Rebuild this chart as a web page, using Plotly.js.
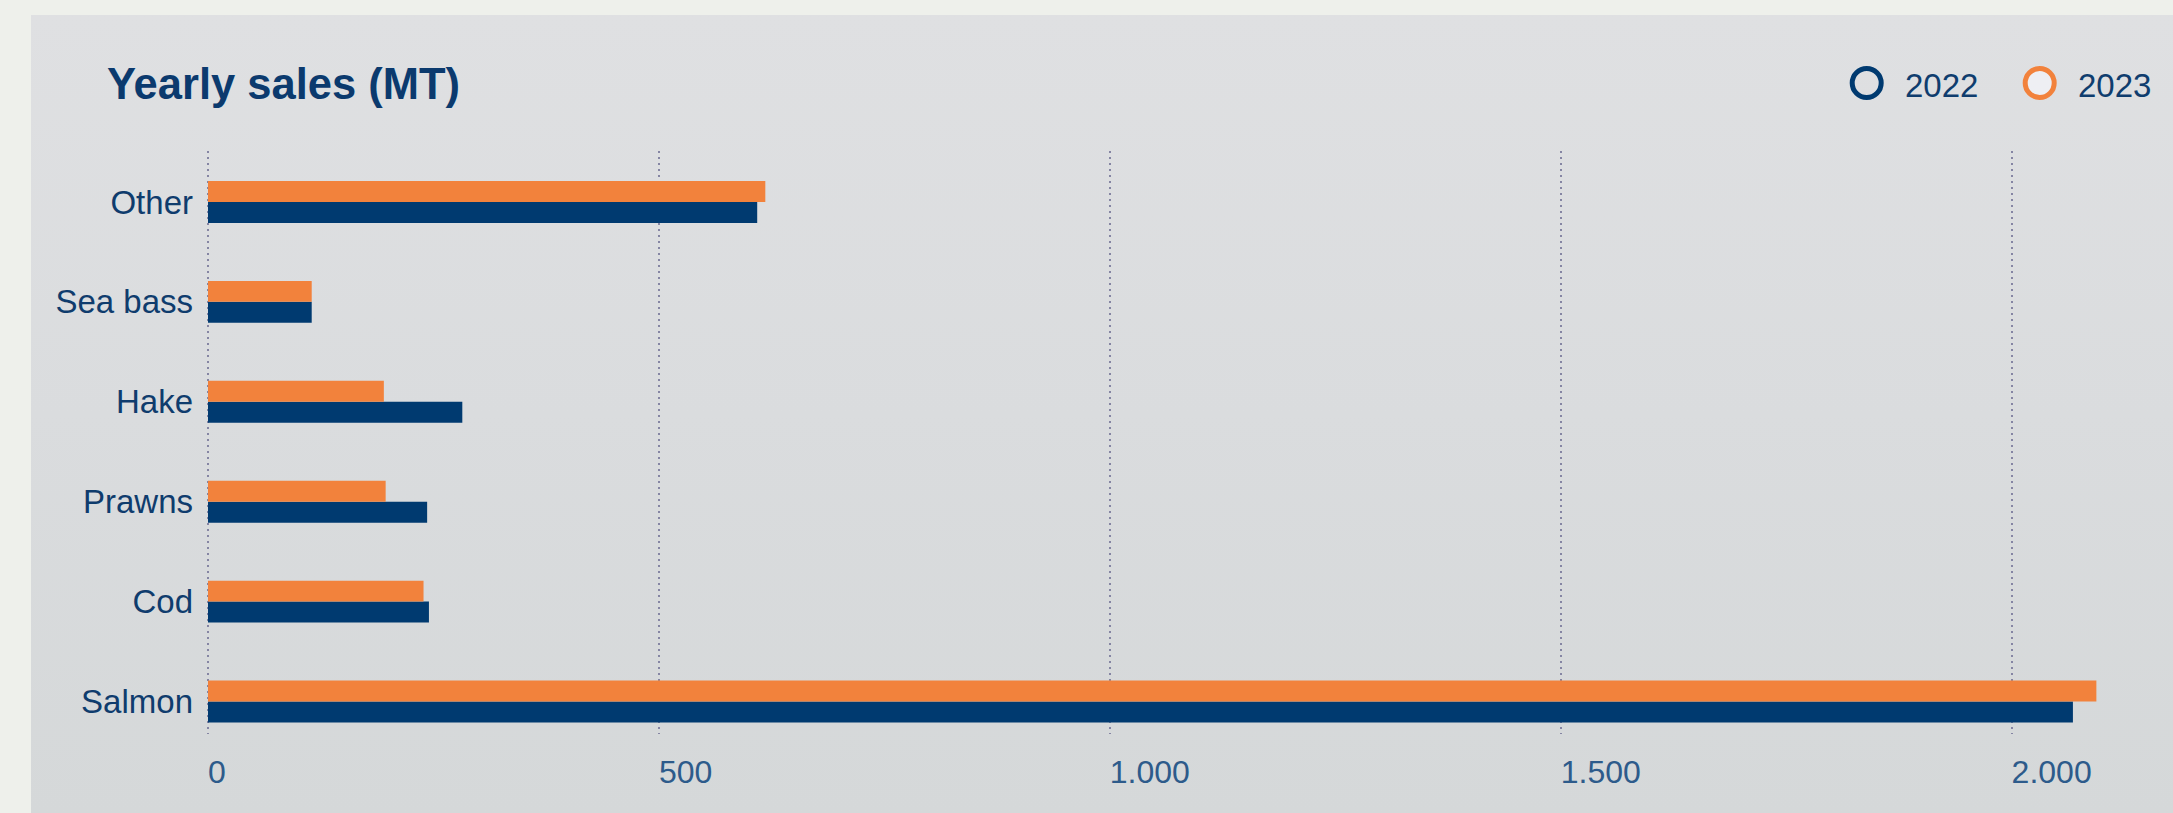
<!DOCTYPE html>
<html>
<head>
<meta charset="utf-8">
<script src="https://cdn.plot.ly/plotly-3.0.1.min.js"></script>
<style>
  html, body { margin: 0; padding: 0; background: #eef0eb; }
  #card { position: absolute; left: 31px; top: 15px; width: 2142px; height: 798px;
          background: linear-gradient(180deg, #dfe0e2 0%, #dadcde 50%, #d5d8d9 100%); }
  #chart { position: absolute; left: 0; top: 0; width: 2173px; height: 813px; }
</style>
</head>
<body>
<div id="card"></div>
<div id="chart"></div>
<script>
// ---- data ----
const categories = ['Salmon', 'Cod', 'Prawns', 'Hake', 'Sea bass', 'Other'];
const seriesNames = ['2022', '2023'];
const sales2022 = [2068, 245, 243, 282, 115, 609];
const sales2023 = [2094, 239, 197, 195, 115, 618];
const xTickVals = [0, 500, 1000, 1500, 2000];

// ---- styling ----
const W = 2173, H = 813;
const M = { l: 204, r: 63, t: 151, b: 79 };
const PW = W - M.l - M.r, PH = H - M.t - M.b;
const SCALE = 0.9018;           // px per unit
const XMIN = -4 / SCALE;        // 0 sits 4px inside the plot area (x = 208)
const px2x = p => (p - M.l) / PW;
const py2y = p => (H - M.b - p) / PH;
const navy = '#003a70', orange = '#f2823c';
const colors = [navy, orange];
const FONT = '"Liberation Sans", Arial, Helvetica, sans-serif';

const traces = [sales2022, sales2023].map((vals, i) => ({
  type: 'bar', orientation: 'h', name: seriesNames[i],
  y: categories, x: vals,
  marker: { color: colors[i], line: { width: 0 } },
  showlegend: false, hoverinfo: 'x+y+name'
}));

// custom circle legend
const legendX = [1866.7, 2039.7];
const legendTextX = [1903, 2076];
const legendY = 83;
const shapes = [], annotations = [];
seriesNames.forEach((n, i) => {
  shapes.push({
    type: 'circle', xref: 'paper', yref: 'paper',
    xsizemode: 'pixel', ysizemode: 'pixel',
    xanchor: px2x(legendX[i]), yanchor: py2y(legendY),
    x0: -14.5, x1: 14.5, y0: -14.5, y1: 14.5,
    line: { color: colors[i], width: 5 },
    fillcolor: i === 0 ? 'rgba(0,0,0,0)' : '#eeeff3'
  });
  annotations.push({
    xref: 'paper', yref: 'paper', x: px2x(legendTextX[i]), y: py2y(legendY + 2),
    xanchor: 'left', yanchor: 'middle', showarrow: false, text: n,
    font: { family: FONT, size: 33, color: '#0f3d6e' }
  });
});

const layout = {
  width: W, height: H,
  margin: M,
  paper_bgcolor: 'rgba(0,0,0,0)', plot_bgcolor: 'rgba(0,0,0,0)',
  separators: ',.',
  barmode: 'group', bargap: 0.58, bargroupgap: 0,
  title: {
    text: 'Yearly sales (MT)', xref: 'container', yref: 'container',
    x: 107 / W, xanchor: 'left', y: 1 - 84 / H, yanchor: 'middle',
    font: { family: FONT, size: 43.5, color: '#0b3a6e', weight: 'bold' }
  },
  xaxis: {
    range: [XMIN, XMIN + PW / SCALE], tickvals: xTickVals, tickformat: ',d',
    showgrid: true, gridcolor: '#8585a3', gridwidth: 2, griddash: '2px,4px',
    zeroline: false, showline: false,
    ticks: '', ticklabelstandoff: 16,
    ticklabelposition: 'outside right',
    tickfont: { family: FONT, size: 32, color: '#2d5b8b' },
    fixedrange: true
  },
  yaxis: {
    type: 'category', range: [-0.325, 5.51],
    showgrid: false, zeroline: false, showline: false,
    ticks: '', ticklabelstandoff: 10,
    tickfont: { family: FONT, size: 33, color: '#0f3c6d' },
    fixedrange: true
  },
  shapes, annotations
};

Plotly.newPlot('chart', traces, layout, { displayModeBar: false });
</script>
</body>
</html>
